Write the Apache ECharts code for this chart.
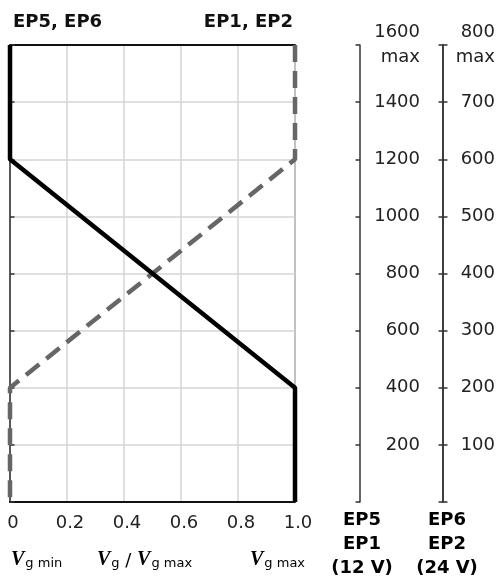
<!DOCTYPE html>
<html>
<head>
<meta charset="utf-8">
<script src="https://cdn.jsdelivr.net/npm/echarts@6/dist/echarts.min.js"></script>
<style>html,body{margin:0;padding:0;background:#fff}#c{width:499px;height:579px}</style>
</head>
<body>
<div id="c"></div>
<script>
// ---- data ----
const ratioTicks = [0, 0.2, 0.4, 0.6, 0.8, 1.0];
const ep5ep6X = [0, 0, 1, 1];
const ep5ep6Y = [1600, 1200, 400, 0];
const ep1ep2X = [1, 1, 0, 0];
const ep1ep2Y = [1600, 1200, 400, 0];
const scale12Max = 1600;
const scale12Step = 200;
const scale24Max = 800;
const scale24Step = 100;
const topLeftLabel = 'EP5, EP6';
const topRightLabel = 'EP1, EP2';
const scale12Name = 'EP5\nEP1\n(12 V)';
const scale24Name = 'EP6\nEP2\n(24 V)';

const FONT = 'DejaVu Sans';
const blackPts = ep5ep6X.map((x, i) => [x, ep5ep6Y[i]]);
const grayPts = ep1ep2X.map((x, i) => [x, ep1ep2Y[i]]);

function scaleAxis(max, step, offset, margin, withLabels) {
  return {
    type: 'value', position: 'right', offset: offset,
    min: 0, max: max, interval: step,
    axisLine: { show: true, lineStyle: { color: '#333', width: 1.5 } },
    axisTick: { show: true, inside: !withLabels, length: 4.5, lineStyle: { color: '#333', width: 1.5 } },
    splitLine: { show: false },
    axisLabel: withLabels ? {
      show: true, align: 'right', margin: margin, color: '#222', fontFamily: FONT, fontSize: 18,
      lineHeight: 25,
      formatter: v => v === 0 ? '' : (v === max ? v + '\nmax' : String(v))
    } : { show: false },
    name: ''
  };
}

const bold = { fontFamily: FONT, fontWeight: 'bold', fontSize: 18, color: '#111' };

const chart = echarts.init(document.getElementById('c'));
chart.setOption({
  animation: false,
  backgroundColor: '#fff',
  title: [
    { text: topLeftLabel, left: 13, top: 13, padding: 0, textStyle: bold },
    { text: topRightLabel, right: 206, top: 13, padding: 0, textStyle: bold }
  ],
  grid: { left: 10, right: 204, top: 45, bottom: 77, show: true, borderColor: '#111', borderWidth: 1,
          containLabel: false, outerBoundsMode: 'none' },
  xAxis: [
    {
      type: 'value', min: 0, max: 1, interval: 0.2, position: 'bottom',
      axisLine: { show: true, onZero: false, lineStyle: { color: '#111', width: 2 } },
      axisTick: { show: false },
      splitLine: { show: true, lineStyle: { color: '#d4d4d4', width: 1.5 } },
      axisLabel: { margin: 12, color: '#222', fontFamily: FONT, fontSize: 18, padding: [0, 0, 0, 6],
        formatter: v => v === 0 ? '0' : v.toFixed(1) }
    },
    {
      type: 'value', min: 0, max: 1, position: 'top',
      axisLine: { show: true, onZero: false, lineStyle: { color: '#111', width: 2 } },
      axisTick: { show: false }, axisLabel: { show: false }, splitLine: { show: false }
    }
  ],
  yAxis: [
    {
      type: 'value', min: 0, max: scale12Max, interval: scale12Step,
      axisLine: { show: false }, axisTick: { show: false }, axisLabel: { show: false },
      splitLine: { show: true, lineStyle: { color: '#d4d4d4', width: 1.5 } }
    },
    scaleAxis(scale12Max, scale12Step, 65, 60, true),
    scaleAxis(scale12Max, scale12Step, 65, 60, false),
    scaleAxis(scale24Max, scale24Step, 148, 52, true),
    scaleAxis(scale24Max, scale24Step, 148, 52, false)
  ],
  series: [
    {
      type: 'line', data: grayPts, xAxisIndex: 0, yAxisIndex: 0, showSymbol: false, clip: false,
      lineStyle: { color: '#666', width: 4.5, type: [17, 9] }, z: 3
    },
    {
      type: 'line', data: blackPts, xAxisIndex: 0, yAxisIndex: 0, showSymbol: false, clip: false,
      lineStyle: { color: '#000', width: 4.5 }, z: 4
    }
  ],
  graphic: [
    { type: 'text', x: 362, y: 508, style: Object.assign({ text: scale12Name, align: 'center', lineHeight: 24 }, bold) },
    { type: 'text', x: 447, y: 508, style: Object.assign({ text: scale24Name, align: 'center', lineHeight: 24 }, bold) },
    { type: 'text', left: 11, top: 550, style: { text: '{v|V}{s|g min}', rich: richV() } },
    { type: 'text', left: 97, top: 550, style: { text: '{v|V}{s|g}{m| / }{v|V}{s|g max}', rich: richV() } },
    { type: 'text', left: 250, top: 550, style: { text: '{v|V}{s|g max}', rich: richV() } }
  ]
});

function richV() {
  return {
    v: { fontFamily: 'Liberation Serif', fontStyle: 'italic', fontWeight: 'bold', fontSize: 20, color: '#222', verticalAlign: 'bottom', lineHeight: 24 },
    s: { fontFamily: FONT, fontSize: 13, color: '#222', verticalAlign: 'bottom', lineHeight: 20, padding: [0, 0, 0, 1] },
    m: { fontFamily: FONT, fontSize: 18, color: '#222', verticalAlign: 'bottom', lineHeight: 24 }
  };
}
</script>
</body>
</html>
